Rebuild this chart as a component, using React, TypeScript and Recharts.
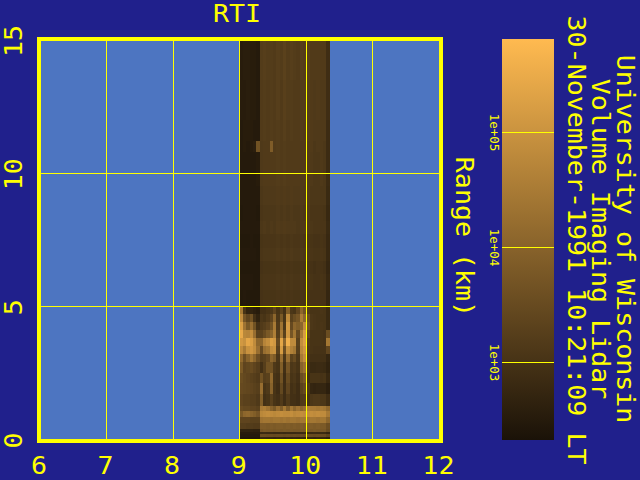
import React from 'react';
import { ComposedChart, Scatter, XAxis, YAxis, ReferenceArea, ReferenceLine } from 'recharts';

const YELLOW = '#ffff00';
const NAVY = '#20208c';
const PLOT_BLUE = '#4d75c1';
const MONO = '"DejaVu Sans Mono", monospace';

const hourTicks = [6, 7, 8, 9, 10, 11, 12];
const rangeTicks = [0, 5, 10, 15];
const colorTicks = [1000, 10000, 100000];
const colorTickLabels = ['1e+03', '1e+04', '1e+05'];
const hourGrid = [7, 8, 9, 10, 11];
const rangeGrid = [5, 10];

// the frame sits a touch outside the axis limits
const frameHours = [5.985, 12.024];
const frameRanges = [-0.06, 15.04];

// left edge of each lidar profile column, last one closes the image
const hourEdges = [
  9, 9.05, 9.1, 9.15, 9.2, 9.25, 9.3, 9.35, 9.4, 9.45, 9.5, 9.55, 9.6, 9.65,
  9.7, 9.75, 9.8, 9.85, 9.9, 9.95, 10, 10.05, 10.1, 10.15, 10.2, 10.25, 10.3, 10.36,
];

// top edge of each range band in km, last one closes the image
const rangeEdges = [
  15, 13.5, 12, 11.2, 10.8, 9.5, 8.8, 8.2, 7.7, 7.2, 6.7, 6.2, 5.6, 5, 4.7, 4.4, 4.1, 3.8, 3.5,
  3.2, 2.9, 2.5, 2.1, 1.7, 1.25, 1.05, 0.85, 0.6, 0.4, 0.28, 0.2, 0.08, 0,
];

// backscatter brightness (0-100) read per band, top to bottom, per column left to right
const brightness = [
  [6, 7, 7, 6, 6, 5, 25, 26, 25, 25, 24, 26, 25, 28, 25, 26, 25, 24, 26, 25, 26, 24, 24, 24, 24, 24, 16],
  [6, 6, 7, 6, 6, 5, 24, 25, 24, 25, 24, 26, 24, 27, 25, 25, 24, 24, 25, 25, 25, 24, 23, 24, 23, 23, 16],
  [5, 6, 6, 6, 5, 5, 24, 25, 24, 25, 24, 25, 24, 26, 24, 25, 24, 24, 25, 24, 25, 24, 23, 23, 23, 23, 15],
  [5, 6, 5, 6, 8, 38, 23, 24, 24, 44, 24, 25, 24, 25, 24, 24, 24, 24, 24, 24, 24, 24, 22, 23, 23, 22, 15],
  [5, 5, 5, 5, 5, 6, 23, 24, 24, 24, 24, 25, 24, 25, 24, 24, 24, 24, 24, 24, 24, 23, 22, 22, 23, 22, 15],
  [5, 5, 5, 5, 5, 5, 22, 23, 23, 23, 23, 24, 23, 24, 23, 24, 23, 23, 24, 23, 24, 22, 22, 22, 22, 22, 14],
  [4, 5, 5, 5, 5, 4, 21, 22, 22, 22, 22, 23, 22, 23, 22, 23, 22, 22, 23, 22, 23, 21, 21, 21, 21, 20, 13],
  [5, 5, 5, 5, 5, 5, 22, 23, 22, 23, 22, 24, 23, 24, 23, 23, 23, 22, 23, 23, 23, 22, 21, 21, 21, 21, 14],
  [4, 4, 4, 5, 4, 4, 20, 21, 21, 21, 21, 22, 21, 22, 21, 22, 21, 21, 22, 21, 21, 20, 19, 19, 20, 19, 13],
  [5, 5, 5, 5, 5, 4, 21, 22, 22, 22, 22, 23, 22, 23, 22, 23, 22, 22, 23, 22, 22, 21, 20, 20, 21, 20, 13],
  [4, 4, 4, 4, 4, 4, 19, 20, 20, 20, 20, 21, 20, 21, 20, 21, 20, 20, 21, 20, 20, 19, 18, 19, 19, 18, 12],
  [5, 5, 5, 5, 4, 4, 20, 21, 21, 21, 21, 22, 21, 22, 21, 22, 21, 21, 22, 21, 21, 20, 19, 19, 20, 19, 13],
  [4, 5, 4, 4, 4, 4, 19, 20, 20, 20, 20, 21, 20, 21, 20, 21, 20, 20, 21, 20, 20, 19, 19, 19, 19, 19, 12],
  [60, 20, 10, 10, 8, 6, 18, 18, 20, 22, 30, 20, 28, 18, 45, 22, 20, 30, 50, 38, 24, 20, 20, 20, 21, 20, 14],
  [72, 40, 30, 38, 18, 10, 22, 20, 24, 30, 50, 22, 42, 20, 72, 28, 35, 40, 64, 50, 34, 22, 21, 20, 20, 20, 14],
  [84, 58, 42, 55, 38, 18, 24, 26, 30, 38, 62, 24, 58, 22, 82, 33, 50, 45, 50, 72, 38, 22, 21, 20, 21, 20, 14],
  [90, 70, 68, 74, 55, 28, 28, 34, 42, 48, 65, 26, 62, 28, 80, 40, 60, 33, 62, 82, 30, 20, 20, 20, 20, 19, 35],
  [80, 76, 88, 84, 72, 50, 50, 68, 74, 84, 80, 33, 88, 50, 94, 72, 72, 28, 74, 84, 24, 20, 20, 20, 20, 19, 60],
  [72, 62, 76, 80, 74, 55, 33, 55, 60, 74, 76, 28, 82, 36, 76, 66, 60, 26, 70, 78, 22, 20, 19, 19, 19, 19, 30],
  [52, 36, 48, 60, 50, 36, 26, 28, 33, 50, 44, 22, 55, 22, 55, 28, 34, 22, 62, 72, 20, 18, 18, 18, 18, 18, 12],
  [42, 30, 32, 34, 30, 26, 18, 26, 38, 38, 23, 20, 45, 18, 40, 22, 24, 20, 48, 55, 18, 14, 14, 15, 15, 14, 10],
  [35, 32, 30, 28, 26, 24, 38, 26, 28, 52, 20, 18, 38, 16, 34, 20, 22, 18, 35, 40, 16, 20, 20, 20, 19, 20, 13],
  [33, 32, 31, 30, 28, 26, 55, 20, 23, 48, 20, 16, 32, 16, 30, 18, 20, 16, 28, 32, 20, 12, 11, 12, 12, 12, 8],
  [30, 28, 28, 26, 26, 23, 45, 18, 20, 28, 20, 18, 24, 16, 24, 18, 18, 16, 23, 24, 18, 22, 23, 23, 22, 22, 16],
  [34, 32, 32, 30, 30, 28, 62, 64, 58, 48, 42, 55, 44, 60, 44, 60, 50, 58, 50, 55, 64, 62, 62, 60, 62, 60, 52],
  [42, 50, 52, 48, 45, 40, 70, 72, 74, 72, 70, 72, 74, 72, 72, 74, 70, 72, 74, 72, 72, 74, 72, 74, 72, 72, 62],
  [30, 30, 30, 28, 28, 28, 58, 60, 60, 58, 60, 60, 58, 60, 58, 60, 60, 58, 60, 60, 58, 60, 60, 58, 60, 60, 50],
  [26, 26, 25, 25, 24, 24, 44, 44, 43, 44, 43, 44, 44, 43, 44, 43, 44, 43, 44, 43, 44, 44, 43, 44, 43, 43, 36],
  [10, 10, 10, 10, 9, 9, 40, 42, 41, 42, 41, 42, 41, 42, 41, 42, 41, 41, 42, 41, 42, 41, 42, 41, 41, 41, 34],
  [6, 6, 6, 6, 6, 6, 14, 15, 14, 15, 14, 14, 15, 14, 15, 14, 14, 15, 14, 15, 14, 14, 15, 14, 14, 14, 11],
  [5, 5, 5, 5, 5, 5, 34, 34, 33, 34, 33, 34, 34, 33, 34, 33, 34, 33, 34, 33, 34, 34, 33, 34, 33, 33, 28],
  [3, 3, 3, 3, 3, 3, 12, 12, 11, 12, 11, 12, 12, 11, 12, 11, 12, 11, 12, 11, 12, 12, 11, 12, 11, 11, 8],
];

const DARK_RGB = [26, 18, 8];
const BRIGHT_RGB = [255, 186, 80];

const brightnessColor = (level: number) => {
  const mix = DARK_RGB.map((c, i) => Math.round(c + ((BRIGHT_RGB[i] - c) * level) / 100));
  return `rgb(${mix.join(',')})`;
};

// the reference font is wider than any installed mono, so stretch along the line
const rotatedText = (text: string, x: number, y: number, angle: number, size = 24, stretch = 1.11) => (
  <text
    key={text}
    transform={`translate(${x} ${y}) rotate(${angle}) scale(${stretch} 1)`}
    textAnchor="middle"
    fill={YELLOW}
    fontFamily={MONO}
    fontSize={size}
  >
    {text}
  </text>
);

const HourTick = ({ x, payload }: any) => rotatedText(String(payload.value), x - 1, 474, 0);
const RangeTick = ({ y, payload }: any) => rotatedText(String(payload.value), 22, y + 1, -90);
const ColorTick = ({ y, payload }: any) =>
  rotatedText(colorTickLabels[colorTicks.indexOf(payload.value)], 10, y, 90, 12.5, 1);

const noMark = () => null;
const profileBase = hourEdges.map((hour) => ({ hour, range: 0 }));
const scaleBase = colorTicks.map((level) => ({ x: 0.5, level }));

const App = () => (
  <div style={{ position: 'absolute', left: 0, top: 0, width: 640, height: 480, background: NAVY, overflow: 'hidden' }}>
    <ComposedChart
      width={640}
      height={480}
      margin={{ top: 40, left: 39, right: 200.6, bottom: 39.6 }}
    >
      <XAxis
        type="number"
        dataKey="hour"
        domain={[6, 12]}
        ticks={hourTicks}
        interval={0}
        height={1}
        axisLine={false}
        tickLine={false}
        tick={HourTick}
      />
      <YAxis
        type="number"
        dataKey="range"
        domain={[0, 15]}
        ticks={rangeTicks}
        interval={0}
        width={1}
        axisLine={false}
        tickLine={false}
        tick={RangeTick}
      />
      <ReferenceArea
        x1={frameHours[0]}
        x2={frameHours[1]}
        y1={frameRanges[0]}
        y2={frameRanges[1]}
        fill={PLOT_BLUE}
        fillOpacity={1}
        ifOverflow="visible"
      />
      {brightness.flatMap((row, r) =>
        row.map((level, c) => (
          <ReferenceArea
            key={`${r}-${c}`}
            x1={hourEdges[c]}
            x2={hourEdges[c + 1]}
            y1={rangeEdges[r + 1]}
            y2={rangeEdges[r]}
            fill={brightnessColor(level)}
            fillOpacity={1}
            shapeRendering="crispEdges"
          />
        ))
      )}
      {hourGrid.map((g) => (
        <ReferenceLine key={`h${g}`} x={g} stroke={YELLOW} strokeWidth={1} shapeRendering="crispEdges" />
      ))}
      {rangeGrid.map((g) => (
        <ReferenceLine key={`r${g}`} y={g} stroke={YELLOW} strokeWidth={1} shapeRendering="crispEdges" />
      ))}
      <ReferenceArea
        x1={frameHours[0]}
        x2={frameHours[1]}
        y1={frameRanges[0]}
        y2={frameRanges[1]}
        fill="none"
        stroke={YELLOW}
        strokeWidth={4}
        ifOverflow="visible"
        shapeRendering="crispEdges"
      />
      <Scatter data={profileBase} dataKey="range" shape={noMark} isAnimationActive={false} />
      {rotatedText('RTI', 237, 22, 0)}
      {rotatedText('Range (km)', 456, 237, 90)}
      {rotatedText('30-November-1991 10:21:09 LT', 568, 240, 90)}
      {rotatedText('Volume Imaging Lidar', 592, 239, 90)}
      {rotatedText('University of Wisconsin', 617, 239, 90)}
    </ComposedChart>

    <div style={{ position: 'absolute', left: 480, top: 0 }}>
      <ComposedChart
        width={80}
        height={480}
        margin={{ top: 39, left: 21, right: 6, bottom: 40 }}
      >
        <defs>
          <linearGradient id="lidarScale" x1="0" y1="0" x2="0" y2="1">
            <stop offset="0%" stopColor="#ffba50" />
            <stop offset="100%" stopColor="#1a1208" />
          </linearGradient>
        </defs>
        <XAxis type="number" dataKey="x" domain={[0, 1]} hide />
        <YAxis
          type="number"
          dataKey="level"
          scale="log"
          domain={[212, 650000]}
          ticks={colorTicks}
          interval={0}
          width={1}
          axisLine={false}
          tickLine={false}
          tick={ColorTick}
        />
        <ReferenceArea x1={0} x2={1} y1={212} y2={650000} fill="url(#lidarScale)" fillOpacity={1} />
        {colorTicks.map((t) => (
          <ReferenceLine key={t} y={t} stroke={YELLOW} strokeWidth={1} shapeRendering="crispEdges" />
        ))}
        <Scatter data={scaleBase} dataKey="level" shape={noMark} isAnimationActive={false} />
      </ComposedChart>
    </div>
  </div>
);

export default App;
